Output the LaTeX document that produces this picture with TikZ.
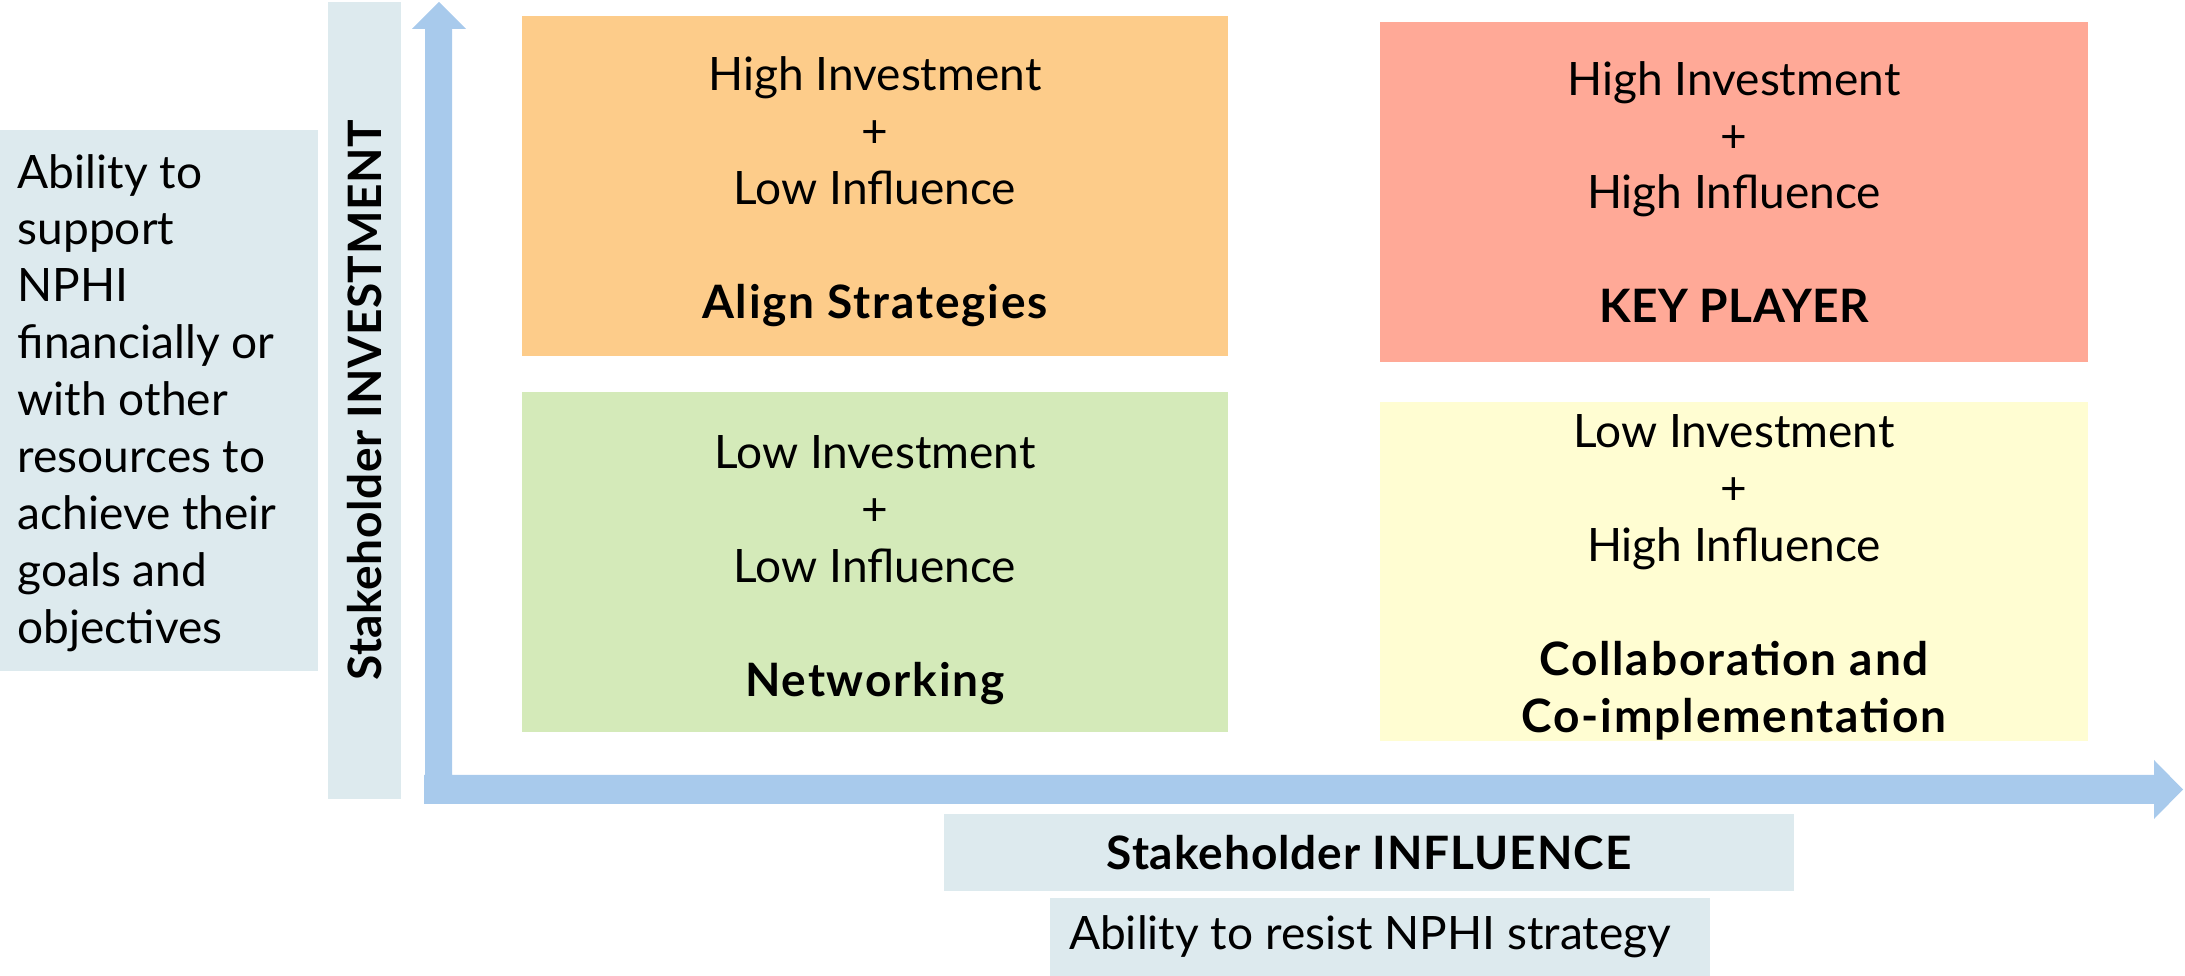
\documentclass[tikz,border=0pt]{standalone}
\usepackage{fontspec}
\setmainfont{Lato}
\definecolor{qorange}{HTML}{FDCC8A}
\definecolor{qred}{HTML}{FFA997}
\definecolor{qgreen}{HTML}{D4EAB9}
\definecolor{qyellow}{HTML}{FFFDD2}
\definecolor{lblbg}{HTML}{DDEAEE}
\definecolor{axisblue}{HTML}{A8CAEC}
\newcommand{\bsp}[2]{{\bfseries\addfontfeatures{LetterSpace=#1}#2}}
\tikzset{
  quad/.style={inner sep=0pt, outer sep=0pt, minimum width=70.6mm, minimum height=34mm},
  qtext/.style={inner sep=0pt, outer sep=0pt, align=center, font=\fontsize{13.1}{16.2}\selectfont},
  lbl/.style={fill=lblbg, inner sep=0pt, outer sep=0pt},
}
\begin{document}
\begin{tikzpicture}[x=0.1mm,y=-0.1mm]
\useasboundingbox (0,0) rectangle (2185,976);
% axes
\fill[axisblue] (424,804) -- (2154,804) -- (2154,819) -- (2183,789.5) -- (2154,760) -- (2154,775)
  -- (452,775) -- (452,29) -- (466,29) -- (439,2) -- (412,29) -- (425,29) -- (425,775) -- (424,775) -- cycle;
% quadrants
\node[quad, fill=qorange] (align) at (875,186) {};
\node[qtext] (alignT) at ([yshift=-0.6mm]align.center) {High Investment\\+\\Low Influence\\[16.2pt]\bsp{4}{Align Strategies}};
\node[quad, fill=qgreen] (net) at (875,562.5) {};
\node[qtext] (netT) at ([yshift=-0.8mm]net.center) {Low Investment\\+\\Low Influence\\[16.2pt]\bsp{4}{Networking}};
\node[quad, fill=qred, minimum width=70.8mm] (key) at (1734,192) {};
\node[qtext] (keyT) at ([yshift=0mm]key.center) {High Investment\\+\\High Influence\\[16.2pt]\bsp{1}{KEY PLAYER}};
\node[quad, fill=qyellow, minimum width=70.8mm, minimum height=33.9mm] (collab) at (1734,571.5) {};
\node[qtext] (collabT) at ([yshift=-0.6mm]collab.center) {Low Investment\\+\\High Influence\\[16.2pt]\bsp{4}{Collaboration and}\\\bsp{4}{Co-implementation}};
% labels
\node[lbl, minimum width=31.8mm, minimum height=54.1mm] (abilbox) at (159,400.5) {};
\node[anchor=west, align=left, inner sep=0pt, font=\fontsize{13.1}{16.2}\selectfont] (abil) at (17,403)
  {Ability to\\support\\NPHI\\financially or\\with other\\resources to\\achieve their\\goals and\\objectives};
\node[lbl, minimum width=7.3mm, minimum height=79.7mm] (invbox) at (364.5,400.5) {};
\node[rotate=90, font=\fontsize{13.1}{16}\selectfont, inner sep=0pt] (inv) at (invbox.center) {\bsp{1.2}{Stakeholder INVESTMENT}};
\node[lbl, minimum width=85mm, minimum height=7.7mm, font=\fontsize{13.1}{16}\selectfont] (infl) at (1369,852.5) {\bsp{2}{Stakeholder INFLUENCE}};
\node[lbl, minimum width=66mm, minimum height=7.8mm] (resist) at (1380,937) {};
\node[inner sep=0pt, font=\fontsize{13.1}{16}\selectfont] (resistT) at ([xshift=-1mm]resist.center) {Ability to resist NPHI strategy};
\end{tikzpicture}
\end{document}
